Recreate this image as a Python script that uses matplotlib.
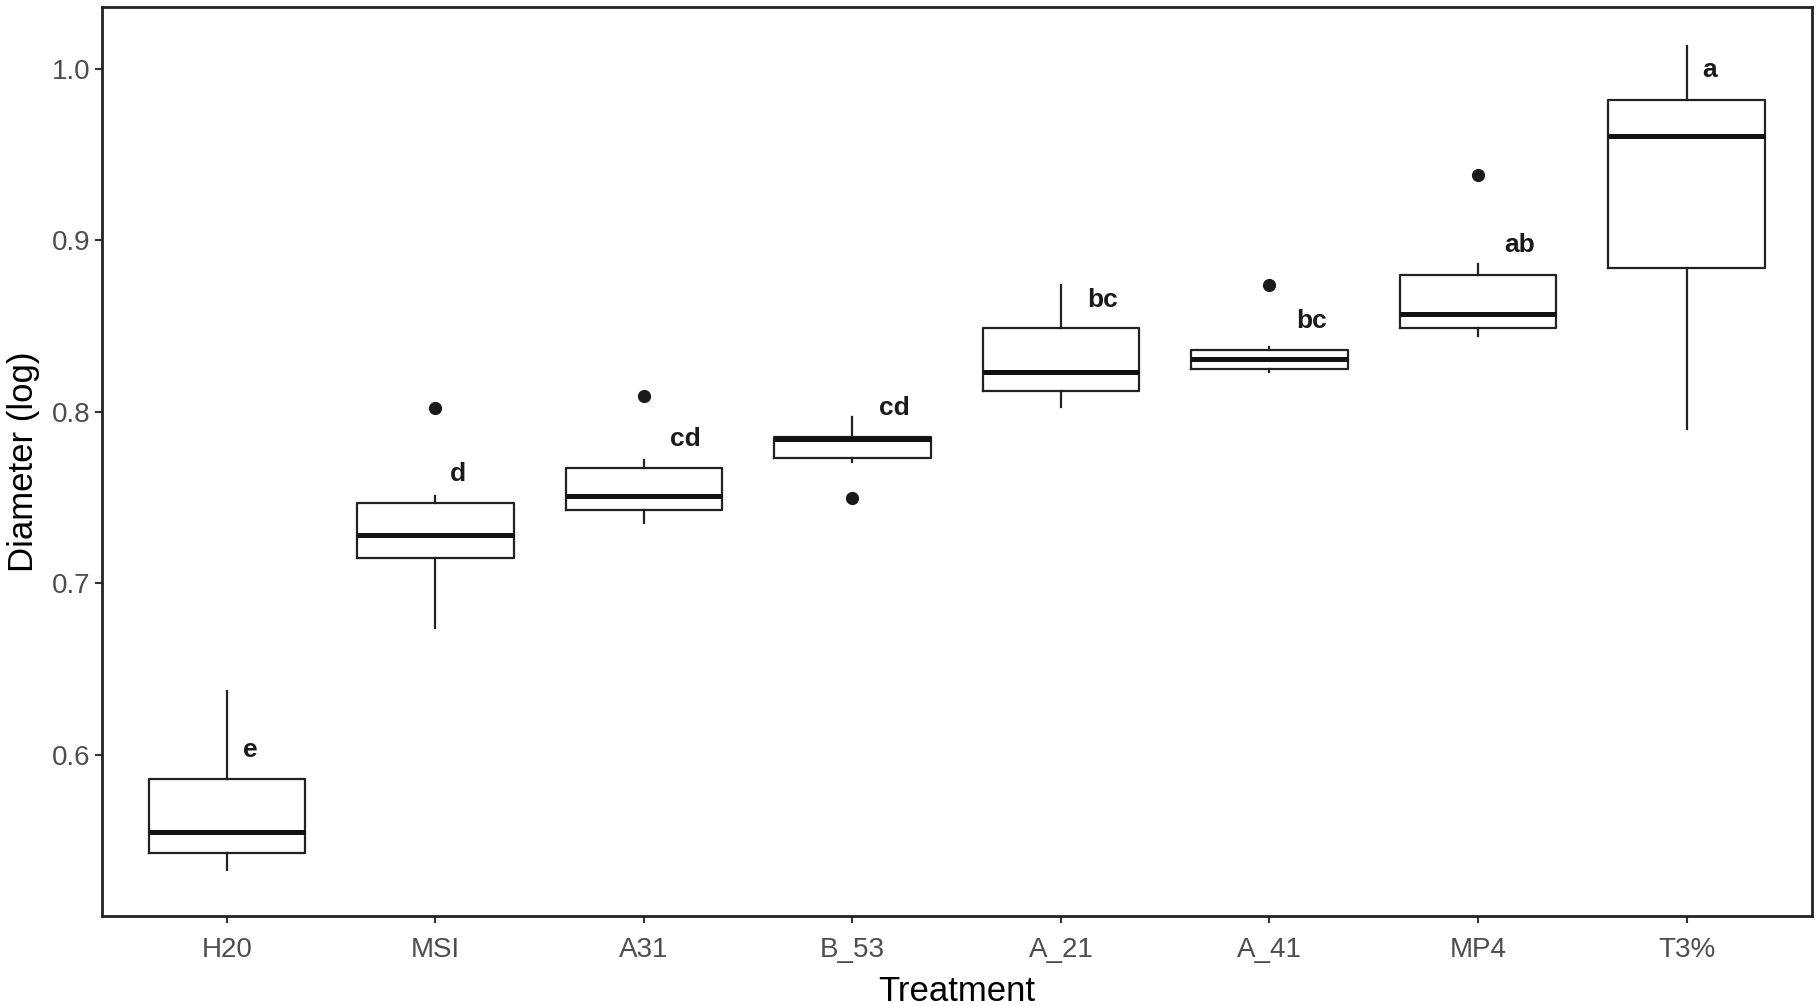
import numpy as np
from matplotlib import pyplot as plt

plt.rcParams['font.family'] = ['Liberation Sans', 'DejaVu Sans']

treatments = ['H20', 'MSI', 'A31', 'B_53', 'A_21', 'A_41', 'MP4', 'T3%']
whisker_low = [0.533, 0.674, 0.735, 0.771, 0.803, 0.823, 0.844, 0.790]
q1 = [0.543, 0.715, 0.743, 0.773, 0.812, 0.825, 0.849, 0.884]
median = [0.555, 0.728, 0.751, 0.784, 0.823, 0.831, 0.857, 0.961]
q3 = [0.586, 0.747, 0.767, 0.785, 0.849, 0.836, 0.880, 0.982]
whisker_high = [0.637, 0.751, 0.772, 0.797, 0.874, 0.838, 0.886, 1.013]
outliers = [[], [0.802], [0.809], [0.750], [], [0.874], [0.938], []]

letters = ['e', 'd', 'cd', 'cd', 'bc', 'bc', 'ab', 'a']
letter_y = [0.603, 0.764, 0.784, 0.802, 0.865, 0.853, 0.897, 0.999]

stats = []
for i, name in enumerate(treatments):
    stats.append({'label': name, 'whislo': whisker_low[i], 'q1': q1[i], 'med': median[i],
                  'q3': q3[i], 'whishi': whisker_high[i], 'fliers': outliers[i]})

fig = plt.figure(figsize=(18.18, 10.06), dpi=100)
ax = fig.add_axes([0.056, 0.0895, 0.9405, 0.9035])

pos = np.arange(1, len(treatments) + 1)
ax.bxp(stats, positions=pos, widths=0.75, showcaps=False,
       boxprops=dict(color='#222222', linewidth=1.6),
       whiskerprops=dict(color='#222222', linewidth=1.6),
       medianprops=dict(color='#111111', linewidth=3.6),
       flierprops=dict(marker='o', markerfacecolor='#1a1a1a', markeredgecolor='#1a1a1a',
                       markersize=8.5))

for p, lbl, y in zip(pos, letters, letter_y):
    ax.annotate(lbl, (p, y), xytext=(3 + 13.5 * len(lbl), 0), textcoords='offset points',
                ha='center', va='center', fontsize=19, fontweight='bold', color='#1a1a1a')

ax.set_xlim(0.4, 8.6)
ax.set_ylim(0.506, 1.036)
ax.set_yticks([0.6, 0.7, 0.8, 0.9, 1.0])
ax.set_yticklabels(['0.6', '0.7', '0.8', '0.9', '1.0'])
ax.set_xticks(pos)
ax.set_xticklabels(treatments)
ax.tick_params(labelsize=20, labelcolor='#4d4d4d', color='#333333', length=5, width=1.5)
ax.tick_params(axis='x', pad=10)
for s in ax.spines.values():
    s.set_linewidth(2)
    s.set_color('#222222')

ax.set_xlabel('Treatment', fontsize=25, labelpad=9)
ax.set_ylabel('Diameter (log)', fontsize=25, labelpad=8)

fig.savefig('out.png', dpi=100)
